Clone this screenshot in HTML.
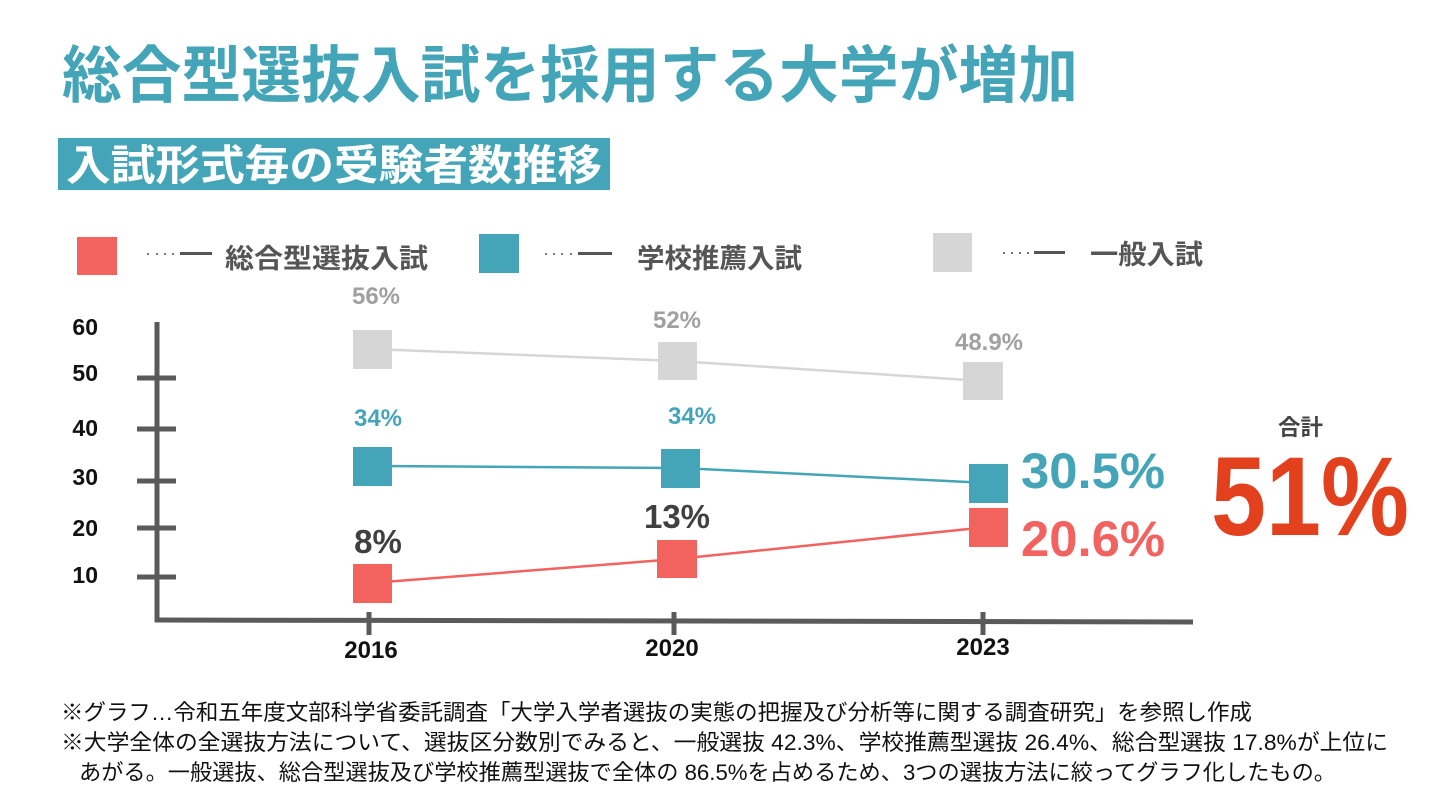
<!DOCTYPE html>
<html lang="ja">
<head>
<meta charset="utf-8">
<style>
  html, body { margin: 0; padding: 0; background: #ffffff; }
  body { width: 1440px; height: 810px; overflow: hidden; }
  svg { display: block; }
  .jp { font-family: "Liberation Sans", "Noto Sans CJK JP", sans-serif; }
  .num { font-family: "Liberation Sans", Arial, sans-serif; font-weight: bold; }
</style>
</head>
<body>
<svg width="1440" height="810" viewBox="0 0 1440 810" xmlns="http://www.w3.org/2000/svg">
  <rect x="0" y="0" width="1440" height="810" fill="#ffffff"/>

  <!-- Title -->
  <text class="jp" x="62" y="97" font-size="62" font-weight="bold" fill="#45A5B8" textLength="1016" lengthAdjust="spacingAndGlyphs">総合型選抜入試を採用する大学が増加</text>

  <!-- Subtitle box -->
  <rect x="58" y="138" width="552" height="52" fill="#45A5B8"/>
  <text class="jp" x="66" y="180" font-size="42" font-weight="bold" fill="#ffffff" textLength="536" lengthAdjust="spacingAndGlyphs">入試形式毎の受験者数推移</text>

  <!-- Legend -->
  <rect x="77" y="237" width="40" height="38" fill="#F2635F"/>
  <g fill="#777">
    <rect x="147" y="253" width="2" height="2"/><rect x="156" y="253" width="2" height="2"/><rect x="164" y="253" width="2" height="2"/><rect x="172" y="253" width="2" height="2"/>
  </g>
  <rect x="180" y="252" width="32" height="3" fill="#555"/>
  <text class="jp" x="225" y="268" font-size="27" font-weight="bold" fill="#555555" textLength="203" lengthAdjust="spacingAndGlyphs">総合型選抜入試</text>

  <rect x="479" y="234" width="40" height="39" fill="#45A5B8"/>
  <g fill="#777">
    <rect x="545" y="253" width="2" height="2"/><rect x="553" y="253" width="2" height="2"/><rect x="561" y="253" width="2" height="2"/><rect x="570" y="253" width="2" height="2"/>
  </g>
  <rect x="578" y="252" width="34" height="3" fill="#555"/>
  <text class="jp" x="637" y="268" font-size="27" font-weight="bold" fill="#555555" textLength="165" lengthAdjust="spacingAndGlyphs">学校推薦入試</text>

  <rect x="933" y="233" width="39" height="39" fill="#D6D6D6"/>
  <g fill="#777">
    <rect x="1003" y="252" width="2" height="2"/><rect x="1011" y="252" width="2" height="2"/><rect x="1019" y="252" width="2" height="2"/><rect x="1027" y="252" width="2" height="2"/>
  </g>
  <rect x="1034" y="251" width="31" height="3" fill="#555"/>
  <text class="jp" x="1090" y="264" font-size="27" font-weight="bold" fill="#555555" textLength="113" lengthAdjust="spacingAndGlyphs">一般入試</text>

  <!-- Y axis -->
  <line x1="157" y1="322" x2="157" y2="622" stroke="#5A5A5A" stroke-width="5"/>
  <g stroke="#5A5A5A" stroke-width="5">
    <line x1="137" y1="378" x2="176" y2="378"/>
    <line x1="137" y1="429" x2="176" y2="429"/>
    <line x1="137" y1="481" x2="176" y2="481"/>
    <line x1="137" y1="528" x2="176" y2="528"/>
    <line x1="137" y1="577" x2="176" y2="577"/>
  </g>
  <g class="num" font-size="23" fill="#111" text-anchor="end">
    <text x="98" y="335">60</text>
    <text x="98" y="381">50</text>
    <text x="98" y="436">40</text>
    <text x="98" y="485">30</text>
    <text x="98" y="536">20</text>
    <text x="98" y="583">10</text>
  </g>

  <!-- X axis -->
  <line x1="155" y1="620" x2="1193" y2="622" stroke="#5A5A5A" stroke-width="5"/>
  <g stroke="#5A5A5A" stroke-width="5">
    <line x1="369" y1="612" x2="369" y2="635"/>
    <line x1="674" y1="612" x2="674" y2="635"/>
    <line x1="983" y1="612" x2="983" y2="635"/>
  </g>
  <g class="num" font-size="24" fill="#111" text-anchor="middle">
    <text x="371" y="658">2016</text>
    <text x="672" y="656">2020</text>
    <text x="983" y="655">2023</text>
  </g>

  <!-- Series lines -->
  <polyline points="372,349 677,361 983,381" fill="none" stroke="#D6D6D6" stroke-width="2.5"/>
  <polyline points="372,466 680,468 988,483" fill="none" stroke="#45A5B8" stroke-width="2.5"/>
  <polyline points="372,583 677,559 988,527" fill="none" stroke="#F2635F" stroke-width="2.5"/>

  <!-- Markers -->
  <rect x="353" y="330" width="39" height="39" fill="#D6D6D6"/>
  <rect x="353" y="447" width="39" height="39" fill="#45A5B8"/>
  <rect x="353" y="564" width="39" height="39" fill="#F2635F"/>
  <rect x="658" y="342" width="39" height="38" fill="#D6D6D6"/>
  <rect x="661" y="449" width="39" height="39" fill="#45A5B8"/>
  <rect x="657" y="540" width="40" height="38" fill="#F2635F"/>
  <rect x="963" y="362" width="40" height="38" fill="#D6D6D6"/>
  <rect x="969" y="464" width="39" height="39" fill="#45A5B8"/>
  <rect x="969" y="508" width="39" height="39" fill="#F2635F"/>

  <!-- Data labels -->
  <g class="num" font-size="24" text-anchor="middle">
    <text x="376" y="304" fill="#A0A0A0">56%</text>
    <text x="677" y="328" fill="#A0A0A0">52%</text>
    <text x="989" y="350" fill="#A0A0A0">48.9%</text>
    <text x="378" y="426" fill="#45A5B8">34%</text>
    <text x="692" y="424" fill="#45A5B8">34%</text>
  </g>
  <g class="num" font-size="33" fill="#404040" text-anchor="middle">
    <text x="378" y="553">8%</text>
    <text x="677" y="528">13%</text>
  </g>
  <text class="num" x="1021" y="488" font-size="50" fill="#45A5B8" textLength="144" lengthAdjust="spacingAndGlyphs">30.5%</text>
  <text class="num" x="1021" y="556" font-size="50" fill="#F2635F" textLength="144" lengthAdjust="spacingAndGlyphs">20.6%</text>

  <!-- Total -->
  <text class="jp" x="1278" y="435" font-size="22" font-weight="bold" fill="#444444" textLength="45" lengthAdjust="spacingAndGlyphs">合計</text>
  <text class="num" x="1211" y="535" font-size="112" fill="#E3401E" textLength="198" lengthAdjust="spacingAndGlyphs">51%</text>

  <!-- Footnotes -->
  <g class="jp" font-size="22" fill="#111111">
    <text x="61" y="720" textLength="1191" lengthAdjust="spacingAndGlyphs">※グラフ…令和五年度文部科学省委託調査「大学入学者選抜の実態の把握及び分析等に関する調査研究」を参照し作成</text>
    <text x="61" y="750" textLength="1327" lengthAdjust="spacingAndGlyphs">※大学全体の全選抜方法について、選抜区分数別でみると、一般選抜 42.3%、学校推薦型選抜 26.4%、総合型選抜 17.8%が上位に</text>
    <text x="79" y="780" textLength="1257" lengthAdjust="spacingAndGlyphs">あがる。一般選抜、総合型選抜及び学校推薦型選抜で全体の 86.5%を占めるため、3つの選抜方法に絞ってグラフ化したもの。</text>
  </g>
</svg>
</body>
</html>
